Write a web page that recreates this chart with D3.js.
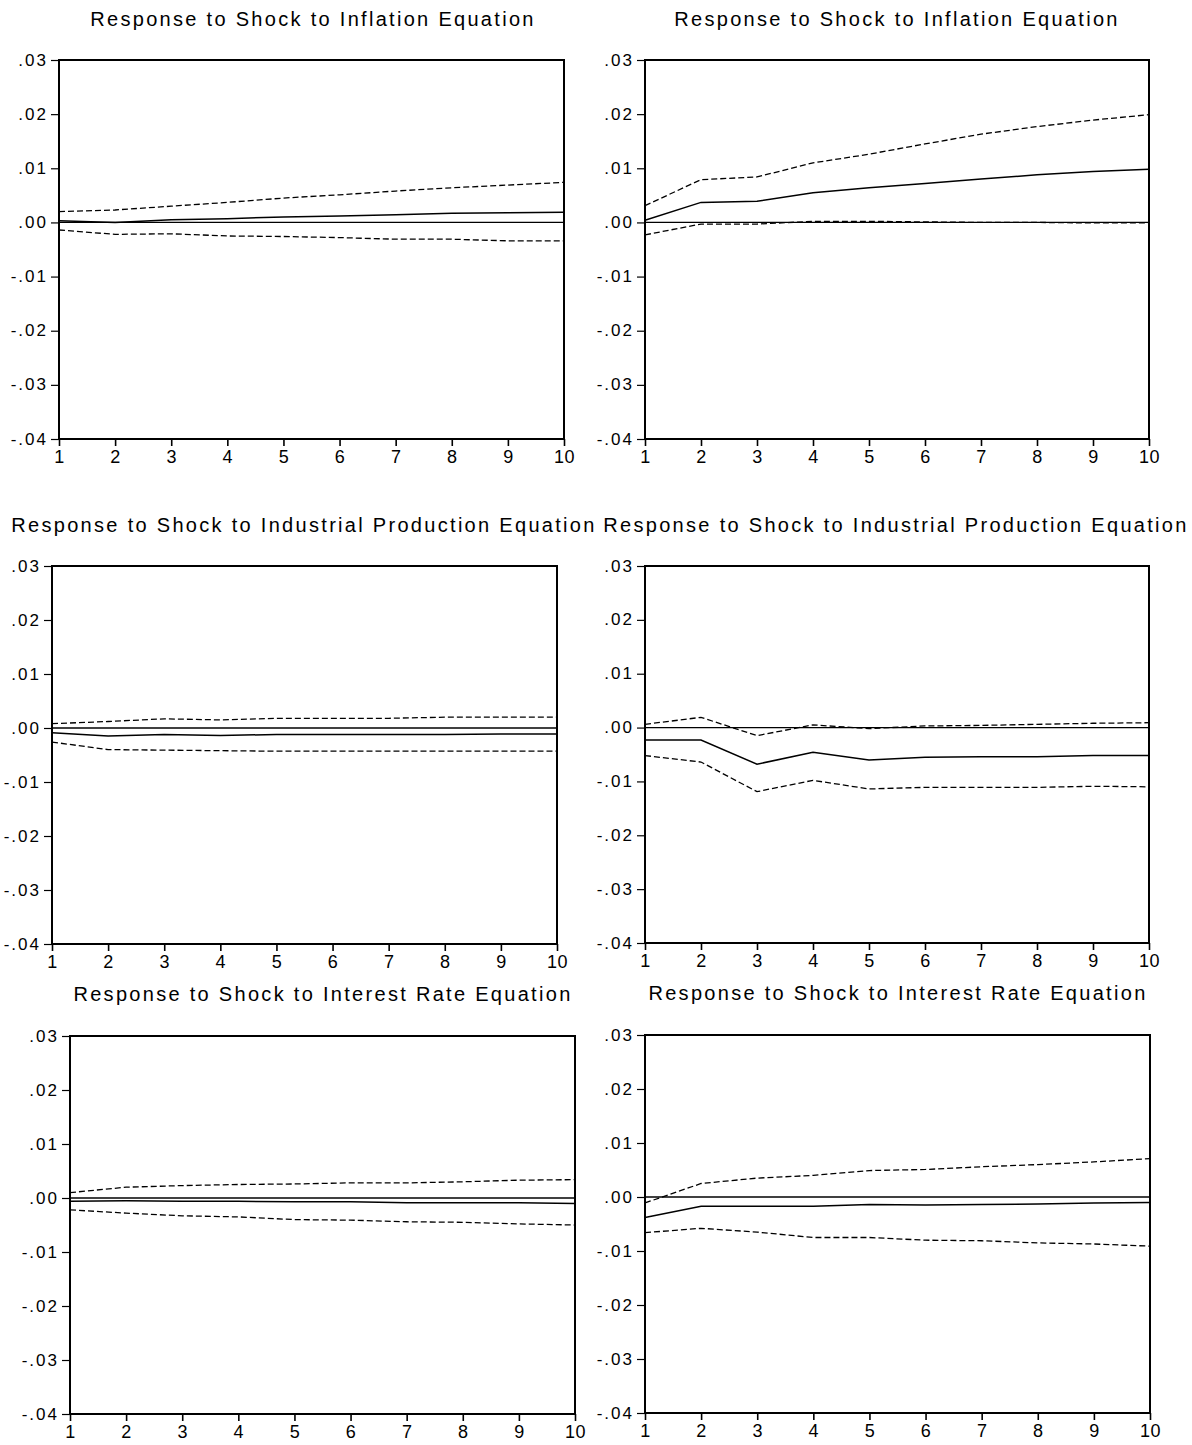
<!DOCTYPE html>
<html>
<head>
<meta charset="utf-8">
<script src="https://cdn.jsdelivr.net/npm/d3@7"></script>
<style>
  body { margin: 0; background: #fff; }
  svg text { font-family: "Liberation Sans", Arial, sans-serif; fill: #000; }
</style>
</head>
<body>
<div id="chart"></div>
<script>
// periods on the x axis and the y tick values
const periods = [1, 2, 3, 4, 5, 6, 7, 8, 9, 10];
const yTicks = [0.03, 0.02, 0.01, 0.00, -0.01, -0.02, -0.03, -0.04];

const titles = [
  'Response to Shock to Inflation Equation',
  'Response to Shock to Inflation Equation',
  'Response to Shock to Industrial Production Equation',
  'Response to Shock to Industrial Production Equation',
  'Response to Shock to Interest Rate Equation',
  'Response to Shock to Interest Rate Equation'
];

// panel 1: inflation shock (left)
const p1Resp  = [0.0003, 0.0000, 0.0005, 0.0007, 0.0010, 0.0012, 0.0014, 0.0017, 0.0018, 0.0019];
const p1Upper = [0.0020, 0.0023, 0.0030, 0.0037, 0.0045, 0.0051, 0.0058, 0.0064, 0.0069, 0.0074];
const p1Lower = [-0.0014, -0.0022, -0.0021, -0.0025, -0.0026, -0.0028, -0.0031, -0.0031, -0.0034, -0.0034];

// panel 2: inflation shock (right)
const p2Resp  = [0.0004, 0.0037, 0.0039, 0.0055, 0.0064, 0.0072, 0.0080, 0.0088, 0.0094, 0.0098];
const p2Upper = [0.0031, 0.0079, 0.0084, 0.0110, 0.0126, 0.0145, 0.0163, 0.0177, 0.0189, 0.0199];
const p2Lower = [-0.0023, -0.0003, -0.0003, 0.0002, 0.0002, 0.0001, 0.0000, 0.0000, -0.0001, -0.0001];

// panel 3: industrial production shock (left)
const p3Resp  = [-0.0009, -0.0015, -0.0012, -0.0014, -0.0012, -0.0012, -0.0012, -0.0012, -0.0011, -0.0011];
const p3Upper = [0.0008, 0.0012, 0.0017, 0.0015, 0.0018, 0.0018, 0.0018, 0.0020, 0.0020, 0.0020];
const p3Lower = [-0.0026, -0.0040, -0.0041, -0.0042, -0.0043, -0.0043, -0.0043, -0.0043, -0.0043, -0.0043];

// panel 4: industrial production shock (right)
const p4Resp  = [-0.0023, -0.0023, -0.0068, -0.0046, -0.0060, -0.0055, -0.0054, -0.0054, -0.0052, -0.0052];
const p4Upper = [0.0006, 0.0019, -0.0015, 0.0005, -0.0002, 0.0003, 0.0004, 0.0006, 0.0008, 0.0009];
const p4Lower = [-0.0052, -0.0064, -0.0119, -0.0098, -0.0114, -0.0111, -0.0111, -0.0111, -0.0109, -0.0110];

// panel 5: interest rate shock (left)
const p5Resp  = [-0.0006, -0.0005, -0.0006, -0.0006, -0.0007, -0.0007, -0.0009, -0.0009, -0.0009, -0.0010];
const p5Upper = [0.0010, 0.0020, 0.0023, 0.0025, 0.0026, 0.0028, 0.0028, 0.0030, 0.0033, 0.0034];
const p5Lower = [-0.0022, -0.0028, -0.0033, -0.0035, -0.0040, -0.0041, -0.0044, -0.0045, -0.0048, -0.0050];

// panel 6: interest rate shock (right)
const p6Resp  = [-0.0038, -0.0017, -0.0017, -0.0017, -0.0014, -0.0015, -0.0014, -0.0013, -0.0011, -0.0010];
const p6Upper = [-0.0011, 0.0025, 0.0035, 0.0040, 0.0049, 0.0051, 0.0056, 0.0060, 0.0065, 0.0071];
const p6Lower = [-0.0066, -0.0058, -0.0065, -0.0075, -0.0075, -0.0080, -0.0081, -0.0085, -0.0087, -0.0091];

// layout of the six boxes (pixels)
const panels = [
  {x0: 59,  x1: 564,  y0: 60,   y1: 439,  tx: 312, ty: 26,   resp: p1Resp, upper: p1Upper, lower: p1Lower},
  {x0: 645, x1: 1149, y0: 60,   y1: 439,  tx: 896, ty: 26,   resp: p2Resp, upper: p2Upper, lower: p2Lower},
  {x0: 52,  x1: 557,  y0: 566,  y1: 944,  tx: 303, ty: 532,  resp: p3Resp, upper: p3Upper, lower: p3Lower},
  {x0: 645, x1: 1149, y0: 566,  y1: 943,  tx: 895, ty: 532,  resp: p4Resp, upper: p4Upper, lower: p4Lower},
  {x0: 70,  x1: 575,  y0: 1036, y1: 1414, tx: 322, ty: 1001, resp: p5Resp, upper: p5Upper, lower: p5Lower},
  {x0: 645, x1: 1150, y0: 1035, y1: 1413, tx: 897, ty: 1000, resp: p6Resp, upper: p6Upper, lower: p6Lower}
];

const width = 1192;
const height = 1445;

const svg = d3.select('#chart').append('svg')
  .attr('width', width)
  .attr('height', height);

// ".03", ".00", "-.01" style labels with a plain hyphen
const fmt = d => d3.format('.2f')(d).replace('\u2212', '-').replace('0.', '.');

panels.forEach((p, k) => {
  const x = d3.scaleLinear().domain([1, 10]).range([p.x0, p.x1]);
  const y = d3.scaleLinear().domain([-0.04, 0.03]).range([p.y1, p.y0]);

  const g = svg.append('g');

  /* title */
  g.append('text')
    .attr('x', p.tx + 1)
    .attr('y', p.ty)
    .attr('text-anchor', 'middle')
    .style('font-size', '20px')
    .style('letter-spacing', '2.3px')
    .text(titles[k]);

  /* axes */
  const yAxis = d3.axisLeft(y)
    .tickValues(yTicks)
    .tickFormat(fmt)
    .tickSizeInner(8)
    .tickSizeOuter(0)
    .tickPadding(3);

  const xAxis = d3.axisBottom(x)
    .tickValues(periods)
    .tickFormat(d3.format('d'))
    .tickSizeInner(7)
    .tickSizeOuter(0)
    .tickPadding(4);

  g.append('g')
    .attr('transform', `translate(${p.x0},0)`)
    .call(yAxis)
    .call(a => a.select('.domain').remove())
    .call(a => a.selectAll('.tick line').attr('stroke', '#000').attr('stroke-width', 1.2))
    .call(a => a.selectAll('.tick text')
      .attr('font-family', null)
      .attr('dy', '0.3em')
      .style('font-size', '17px')
      .style('letter-spacing', '2px'));

  g.append('g')
    .attr('transform', `translate(0,${p.y1})`)
    .call(xAxis)
    .call(a => a.select('.domain').remove())
    .call(a => a.selectAll('.tick line').attr('stroke', '#000').attr('stroke-width', 1.6))
    .call(a => a.selectAll('.tick text')
      .attr('font-family', null)
      .style('font-size', '18px')
      .style('letter-spacing', '0.5px'));

  /* zero line */
  g.append('line')
    .attr('x1', x(1)).attr('x2', x(10))
    .attr('y1', y(0)).attr('y2', y(0))
    .attr('stroke', '#000')
    .attr('stroke-width', 1.3);

  const line = d3.line()
    .x((d, i) => x(periods[i]))
    .y(d => y(d));

  g.append('path')
    .attr('d', line(p.upper))
    .attr('fill', 'none')
    .attr('stroke', '#000')
    .attr('stroke-width', 1.3)
    .attr('stroke-dasharray', '6,3');

  g.append('path')
    .attr('d', line(p.lower))
    .attr('fill', 'none')
    .attr('stroke', '#000')
    .attr('stroke-width', 1.3)
    .attr('stroke-dasharray', '6,3');

  g.append('path')
    .attr('d', line(p.resp))
    .attr('fill', 'none')
    .attr('stroke', '#000')
    .attr('stroke-width', 1.5);

  /* frame */
  g.append('rect')
    .attr('x', p.x0).attr('y', p.y0)
    .attr('width', p.x1 - p.x0)
    .attr('height', p.y1 - p.y0)
    .attr('fill', 'none')
    .attr('stroke', '#000')
    .attr('stroke-width', 2);
});
</script>
</body>
</html>
